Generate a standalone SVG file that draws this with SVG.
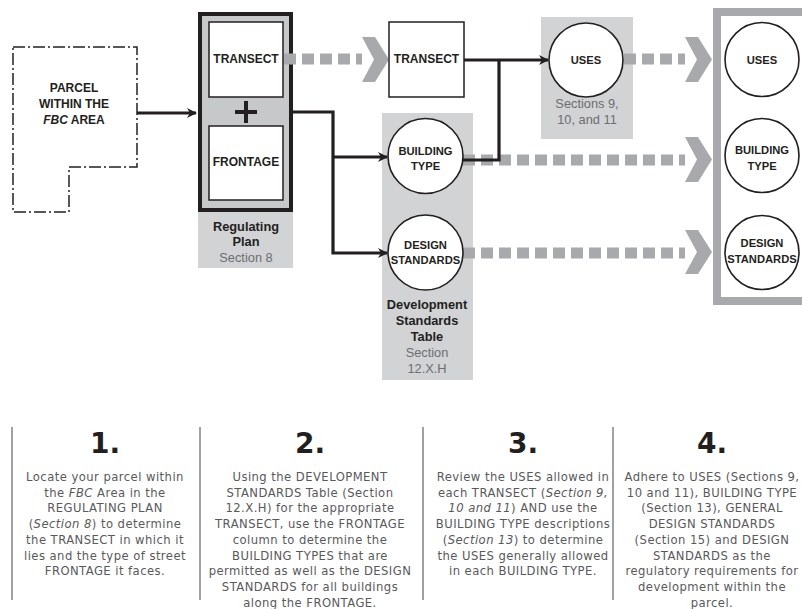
<svg xmlns="http://www.w3.org/2000/svg" width="802" height="609" viewBox="0 0 802 609">
<defs>
<style>
.bg{fill:#d1d3d4}
.box{fill:#fff;stroke:#231f20;stroke-width:1.5}
.circ{fill:#fff;stroke:#231f20;stroke-width:1.6}
.lbl{font-family:"Liberation Sans",Arial,sans-serif;font-weight:bold;font-size:12px;fill:#231f20;text-anchor:middle}
.cl{font-family:"Liberation Sans",Arial,sans-serif;font-weight:bold;font-size:11.2px;fill:#231f20;text-anchor:middle}
.cap{font-family:"Liberation Sans",Arial,sans-serif;font-weight:bold;font-size:12.8px;fill:#231f20;text-anchor:middle}
.sec{font-family:"Liberation Sans",Arial,sans-serif;font-size:12.8px;fill:#6d6e71;text-anchor:middle}
.con{fill:none;stroke:#231f20;stroke-width:3.2}
.dots{fill:none;stroke:#a7a9ac;stroke-width:11;stroke-dasharray:12 6}
.chev{fill:#a7a9ac}
.sep{stroke:#808285;stroke-width:1.5}
.num{font-family:"DejaVu Sans",sans-serif;font-weight:bold;font-size:28px;fill:#231f20;text-anchor:middle}
.para{font-family:"DejaVu Sans",sans-serif;font-size:11.6px;fill:#58595b;text-anchor:middle;letter-spacing:0.45px}
.it{font-style:italic}
</style>
<marker id="ah" viewBox="0 0 10 10" refX="9" refY="5" markerWidth="10" markerHeight="10" markerUnits="userSpaceOnUse" orient="auto">
<path d="M0,0 L10,5 L0,10 L3,5 Z" fill="#231f20"/>
</marker>
</defs>
<rect width="802" height="609" fill="#fff"/>

<g id="parcel">
<polygon points="13,47 137,47 137,167 69,167 69,212 13,212" fill="none" stroke="#231f20" stroke-width="1.5" stroke-dasharray="12 3 2 3"/>
<text class="lbl" x="74" y="92">PARCEL</text>
<text class="lbl" x="74" y="108">WITHIN THE</text>
<text class="lbl" x="74" y="124"><tspan class="it">FBC</tspan> AREA</text>
</g>

<g id="regulating-plan">
<rect class="bg" x="198" y="212" width="95" height="56"/>
<rect x="200" y="14" width="91" height="196" fill="#c7c8ca" stroke="#231f20" stroke-width="4"/>
<rect class="box" x="209" y="22" width="74" height="75"/>
<text class="lbl" x="246" y="63">TRANSECT</text>
<rect class="box" x="209" y="126" width="74" height="74"/>
<text class="lbl" x="246" y="166">FRONTAGE</text>
<path d="M235,112 H257 M246,101 V123" stroke="#231f20" stroke-width="4"/>
<text class="cap" x="246" y="231">Regulating</text>
<text class="cap" x="246" y="246">Plan</text>
<text class="sec" x="246" y="262">Section 8</text>
</g>

<g id="dev-standards-bg">
<rect class="bg" x="382" y="113" width="91" height="267"/>
<text class="cap" x="427" y="309">Development</text>
<text class="cap" x="427" y="325">Standards</text>
<text class="cap" x="427" y="341">Table</text>
<text class="sec" x="427" y="357">Section</text>
<text class="sec" x="427" y="373">12.X.H</text>
</g>

<g id="uses-bg">
<rect class="bg" x="541" y="17" width="92" height="122"/>
<text class="sec" x="587" y="108">Sections 9,</text>
<text class="sec" x="587" y="124">10, and 11</text>
</g>

<g id="results-box">
<rect x="717" y="12" width="100" height="289" fill="#fff" stroke="#a7a9ac" stroke-width="8"/>
</g>

<g id="connectors">
<line class="dots" x1="284" y1="59" x2="362" y2="59"/>
<line class="dots" x1="624" y1="59" x2="685" y2="59"/>
<line class="dots" x1="463" y1="160" x2="685" y2="160"/>
<line class="dots" x1="463" y1="253" x2="685" y2="253"/>
<polygon class="chev" points="362,37 375,37 389,59.5 375,82 362,82 374,59.5"/>
<polygon class="chev" points="685,37 698,37 712,59.5 698,82 685,82 697,59.5"/>
<polygon class="chev" points="685,137 698,137 712,159.5 698,182 685,182 697,159.5"/>
<polygon class="chev" points="685,230 698,230 712,252 698,274 685,274 697,252"/>
<path class="con" d="M137,113 H196" marker-end="url(#ah)"/>
<path class="con" d="M293,112 H333 V253 H387" marker-end="url(#ah)"/>
<path class="con" d="M333,157 H387" marker-end="url(#ah)"/>
<path class="con" d="M464,60 H548" marker-end="url(#ah)"/>
<path class="con" d="M462,160 H499 V60"/>
</g>

<g id="transect">
<rect class="box" x="389" y="22" width="75" height="75"/>
<text class="lbl" x="426.5" y="63">TRANSECT</text>
</g>

<g id="uses">
<circle class="circ" cx="586" cy="60" r="37"/>
<text class="cl" x="586" y="64">USES</text>
</g>

<g id="building-type">
<circle class="circ" cx="425.5" cy="156" r="37.5"/>
<text class="cl" x="425.5" y="155">BUILDING</text>
<text class="cl" x="425.5" y="170">TYPE</text>
</g>

<g id="design-standards">
<circle class="circ" cx="425.5" cy="252.5" r="37.5"/>
<text class="cl" x="425.5" y="249">DESIGN</text>
<text class="cl" x="425.5" y="264">STANDARDS</text>
</g>

<g id="uses-result">
<circle class="circ" cx="762" cy="59.5" r="37"/>
<text class="cl" x="762" y="64">USES</text>
</g>

<g id="building-type-result">
<circle class="circ" cx="762" cy="155.5" r="37"/>
<text class="cl" x="762" y="154">BUILDING</text>
<text class="cl" x="762" y="170">TYPE</text>
</g>

<g id="design-standards-result">
<circle class="circ" cx="762" cy="252.5" r="37"/>
<text class="cl" x="762" y="247">DESIGN</text>
<text class="cl" x="762" y="263">STANDARDS</text>
</g>

<g id="steps">
<line class="sep" x1="12" y1="427" x2="12" y2="600"/>
<line class="sep" x1="200" y1="427" x2="200" y2="600"/>
<line class="sep" x1="423" y1="427" x2="423" y2="600"/>
<line class="sep" x1="613" y1="427" x2="613" y2="600"/>
<text class="num" x="105" y="453">1.</text>
<text class="num" x="310" y="453">2.</text>
<text class="num" x="523" y="453">3.</text>
<text class="num" x="712" y="453">4.</text>

<text class="para" x="105" y="481">Locate your parcel within</text>
<text class="para" x="105" y="497">the <tspan class="it">FBC</tspan> Area in the</text>
<text class="para" x="105" y="512">REGULATING PLAN</text>
<text class="para" x="105" y="528">(<tspan class="it">Section 8</tspan>) to determine</text>
<text class="para" x="105" y="544">the TRANSECT in which it</text>
<text class="para" x="105" y="560">lies and the type of street</text>
<text class="para" x="105" y="575">FRONTAGE it faces.</text>

<text class="para" x="310" y="481">Using the DEVELOPMENT</text>
<text class="para" x="310" y="497">STANDARDS Table (Section</text>
<text class="para" x="310" y="512">12.X.H) for the appropriate</text>
<text class="para" x="310" y="528">TRANSECT, use the FRONTAGE</text>
<text class="para" x="310" y="544">column to determine the</text>
<text class="para" x="310" y="560">BUILDING TYPES that are</text>
<text class="para" x="310" y="575">permitted as well as the DESIGN</text>
<text class="para" x="310" y="591">STANDARDS for all buildings</text>
<text class="para" x="310" y="607">along the FRONTAGE.</text>

<text class="para" x="523" y="481">Review the USES allowed in</text>
<text class="para" x="523" y="497">each TRANSECT (<tspan class="it">Section 9,</tspan></text>
<text class="para" x="523" y="512"><tspan class="it">10 and 11</tspan>) AND use the</text>
<text class="para" x="523" y="528">BUILDING TYPE descriptions</text>
<text class="para" x="523" y="544">(<tspan class="it">Section 13</tspan>) to determine</text>
<text class="para" x="523" y="560">the USES generally allowed</text>
<text class="para" x="523" y="575">in each BUILDING TYPE.</text>

<text class="para" x="712" y="481">Adhere to USES (Sections 9,</text>
<text class="para" x="712" y="497">10 and 11), BUILDING TYPE</text>
<text class="para" x="712" y="512">(Section 13), GENERAL</text>
<text class="para" x="712" y="528">DESIGN STANDARDS</text>
<text class="para" x="712" y="544">(Section 15) and DESIGN</text>
<text class="para" x="712" y="560">STANDARDS as the</text>
<text class="para" x="712" y="575">regulatory requirements for</text>
<text class="para" x="712" y="591">development within the</text>
<text class="para" x="712" y="607">parcel.</text>
</g>
</svg>
